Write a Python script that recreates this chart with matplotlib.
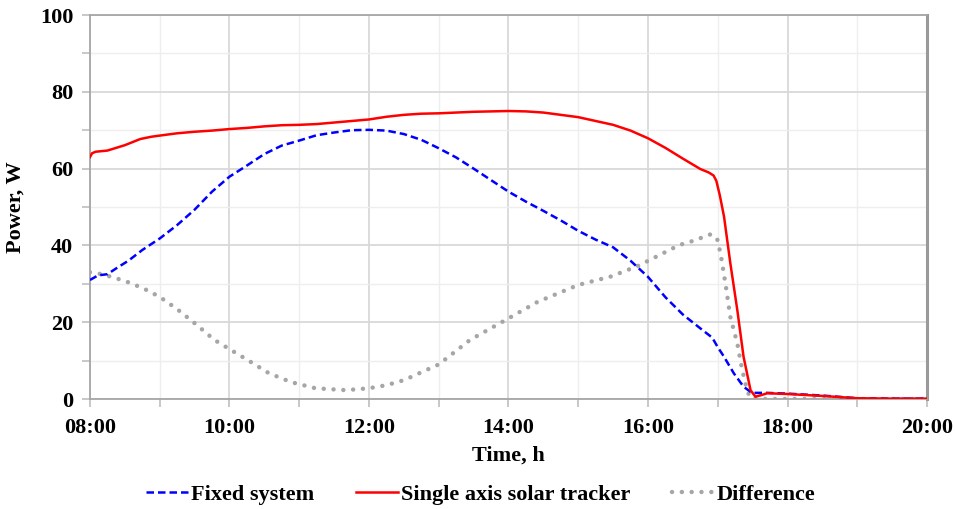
import matplotlib.pyplot as plt
from matplotlib.ticker import MultipleLocator, FuncFormatter

plt.rcParams['font.family'] = ['Liberation Serif', 'DejaVu Serif']
plt.rcParams['font.weight'] = 'bold'
plt.rcParams['font.size'] = 16

# time of day in hours, power in W
t_fixed = [8.0, 8.117, 8.25, 8.4, 8.55, 8.75, 9.0, 9.25, 9.5, 9.75, 10.0, 10.25, 10.5,
           10.75, 11.0, 11.25, 11.5, 11.75, 12.0, 12.25, 12.5, 12.75, 13.0, 13.25, 13.5,
           13.75, 14.0, 14.25, 14.5, 14.75, 15.0, 15.25, 15.5, 15.75, 16.0, 16.25, 16.5,
           16.75, 16.92, 17.0, 17.09, 17.23, 17.37, 17.49, 17.7, 18.0, 18.5, 19.0, 19.5, 20.0]
p_fixed = [31.0, 32.2, 32.5, 34.3, 36.0, 38.8, 41.8, 45.3, 49.3, 54.0, 57.9, 60.8, 63.8,
           66.0, 67.3, 68.7, 69.4, 70.0, 70.1, 69.9, 69.0, 67.5, 65.3, 62.9, 60.0,
           57.0, 54.0, 51.4, 49.0, 46.5, 43.8, 41.5, 39.5, 36.0, 31.8, 26.5, 22.0,
           18.4, 16.0, 13.5, 11.0, 6.7, 3.2, 1.6, 1.6, 1.4, 0.9, 0.2, 0.1, 0.1]

t_tracker = [8.0, 8.03, 8.083, 8.25, 8.5, 8.72, 8.88, 9.0, 9.25, 9.5, 9.75, 10.0, 10.25,
             10.5, 10.75, 11.0, 11.25, 11.5, 11.75, 12.0, 12.25, 12.5, 12.75, 13.0, 13.25,
             13.5, 13.75, 14.0, 14.25, 14.5, 14.75, 15.0, 15.25, 15.5, 15.75, 16.0, 16.25,
             16.5, 16.75, 16.87, 16.94, 16.98, 17.03, 17.09, 17.18, 17.28, 17.37, 17.47,
             17.54, 17.62, 17.71, 18.0, 18.5, 19.0, 19.5, 20.0]
p_tracker = [63.0, 64.0, 64.4, 64.7, 66.1, 67.7, 68.3, 68.6, 69.2, 69.6, 69.9, 70.3, 70.6,
             71.0, 71.3, 71.4, 71.6, 72.0, 72.4, 72.8, 73.5, 74.0, 74.3, 74.4, 74.6,
             74.8, 74.9, 75.0, 74.9, 74.6, 74.0, 73.4, 72.4, 71.4, 69.9, 67.9, 65.4,
             62.6, 59.9, 59.0, 58.2, 56.8, 53.0, 47.5, 35.4, 23.2, 11.0, 2.3,
             0.6, 1.0, 1.5, 1.3, 0.8, 0.2, 0.1, 0.1]

t_diff = [8.0, 8.117, 8.333, 8.55, 8.767, 9.0, 9.25, 9.517, 9.783, 10.0, 10.283, 10.567,
          10.883, 11.233, 11.667, 12.0, 12.25, 12.5, 13.0, 13.45, 14.0, 14.417, 15.0,
          15.467, 15.85, 16.133, 16.45, 16.65, 16.9, 16.99, 17.04, 17.11, 17.18, 17.28,
          17.35, 17.42, 17.47, 17.6, 18.0, 19.0, 20.0]
p_diff = [33.0, 32.7, 31.7, 30.4, 28.8, 26.6, 23.4, 19.5, 15.4, 13.0, 9.9, 6.7,
          4.4, 2.8, 2.3, 2.8, 3.6, 4.9, 9.0, 15.4, 21.0, 25.3, 29.7,
          31.9, 34.6, 37.2, 40.1, 41.2, 42.9, 41.8, 37.9, 30.1, 21.4, 14.5,
          7.6, 2.3, 0.2, 0.0, 0.0, 0.0, 0.0]

fig = plt.figure(figsize=(9.55, 5.09), dpi=100)
ax = fig.add_axes([0.0942, 0.2161, 0.8765, 0.7544])

ax.plot(t_fixed, p_fixed, color='#0000ff', lw=1.8, ls=(0, (3, 1.6)),
        label='Fixed system', zorder=3)
ax.plot(t_tracker, p_tracker, color='#ff0000', lw=1.8,
        label='Single axis solar tracker', zorder=4)
ax.plot(t_diff, p_diff, color='#a6a6a6', lw=3.2, ls=(0, (0.01, 2.2)),
        dash_capstyle='round', label='Difference', zorder=2)

ax.set_xlim(8, 20)
ax.set_ylim(0, 100)
ax.xaxis.set_major_locator(MultipleLocator(2))
ax.xaxis.set_minor_locator(MultipleLocator(1))
ax.yaxis.set_major_locator(MultipleLocator(20))
ax.yaxis.set_minor_locator(MultipleLocator(10))
ax.xaxis.set_major_formatter(FuncFormatter(lambda v, p: '%02d:00' % int(round(v))))

ax.grid(which='major', color='#d9d9d9', lw=1.3)
ax.grid(which='minor', color='#eeeeee', lw=1.0)
ax.set_axisbelow(True)

for s in ['left', 'bottom', 'top']:
    ax.spines[s].set_color('#a6a6a6')
    ax.spines[s].set_linewidth(1.3)
ax.spines['right'].set_color('#9a9a9a')
ax.spines['right'].set_linewidth(2.2)

ax.tick_params(which='both', direction='out', color='#bfbfbf', width=1.2, length=6)
ax.tick_params(axis='y', which='both', pad=6)
ax.tick_params(axis='x', which='both', pad=8)

ax.set_xlabel('Time, h', fontweight='bold', labelpad=5)
ax.set_ylabel('Power, W', fontweight='bold', labelpad=10)

ax.legend(loc='upper center', bbox_to_anchor=(0.467, -0.2), ncol=3, frameon=False,
          handlelength=1.9, handletextpad=0.1, columnspacing=1.9, borderaxespad=0)

fig.savefig('out.png', dpi=100)
